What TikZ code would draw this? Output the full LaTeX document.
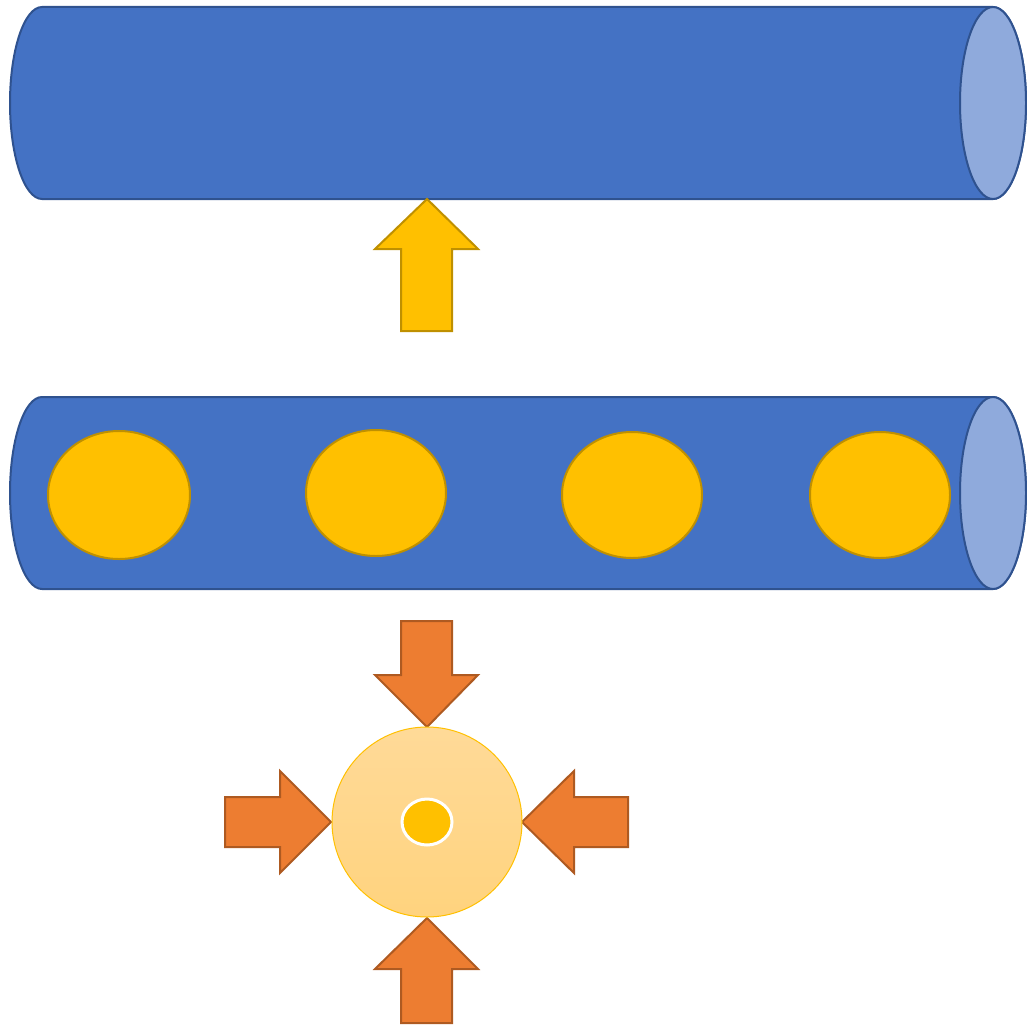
\documentclass[tikz,border=0pt]{standalone}
\usetikzlibrary{shapes.geometric}
\definecolor{cylblue}{HTML}{4472C4}
\definecolor{cyledge}{HTML}{2F528F}
\definecolor{cylcap}{HTML}{8FAADC}
\definecolor{gold}{HTML}{FFC000}
\definecolor{goldedge}{HTML}{BF9000}
\definecolor{orng}{HTML}{ED7D31}
\definecolor{orngedge}{HTML}{AE5A21}
\definecolor{lighttop}{HTML}{FFDA98}
\definecolor{lightbot}{HTML}{FFD37E}
\begin{document}
\begin{tikzpicture}[x=1pt,y=-1pt,
  cylbody/.style={fill=cylblue,draw=cyledge,line width=2pt,line join=round},
  cylend/.style={fill=cylcap,draw=cyledge,line width=2pt},
  dot/.style={fill=gold,draw=goldedge,line width=2pt},
  yarrow/.style={fill=gold,draw=goldedge,line width=2pt,line join=miter},
  oarrow/.style={fill=orng,draw=orngedge,line width=2pt,line join=miter}]
\useasboundingbox (0,0) rectangle (1027,1025);
% top cylinder
\path[cylbody] (42,7) arc[start angle=270,end angle=90,x radius=32,y radius=96]
  -- (993,199) arc[start angle=90,end angle=-90,x radius=33,y radius=96] -- cycle;
\path[cylend] (993,103) ellipse[x radius=33,y radius=96];
% yellow arrow
\path[yarrow] (401,331) -- (452,331) -- (452,249) -- (478,249) -- (427,199) -- (375,249) -- (401,249) -- cycle;
% middle cylinder
\path[cylbody] (42,397) arc[start angle=270,end angle=90,x radius=32,y radius=96]
  -- (993,589) arc[start angle=90,end angle=-90,x radius=33,y radius=96] -- cycle;
\path[cylend] (993,493) ellipse[x radius=33,y radius=96];
% dots
\path[dot] (119,495) ellipse[x radius=71,y radius=64];
\path[dot] (376,493) ellipse[x radius=70,y radius=63];
\path[dot] (632,495) ellipse[x radius=70,y radius=63];
\path[dot] (880,495) ellipse[x radius=70,y radius=63];
% orange arrows
\path[oarrow] (401,621) -- (452,621) -- (452,675) -- (478,675) -- (427,727) -- (375,675) -- (401,675) -- cycle;
\path[oarrow] (225,797) -- (280,797) -- (280,771) -- (331,822) -- (280,873) -- (280,847) -- (225,847) -- cycle;
\path[oarrow] (628,797) -- (574,797) -- (574,771) -- (522,822) -- (574,873) -- (574,847) -- (628,847) -- cycle;
\path[oarrow] (401,1023) -- (452,1023) -- (452,969) -- (478,969) -- (427,918) -- (375,969) -- (401,969) -- cycle;
% centre circle
\shade[top color=lighttop,bottom color=lightbot] (427,822) circle[radius=95];
\draw[gold,line width=1pt] (427,822) circle[radius=95];
\path[fill=gold,draw=white,line width=3pt] (427,822) ellipse[x radius=25,y radius=23];
\end{tikzpicture}
\end{document}
